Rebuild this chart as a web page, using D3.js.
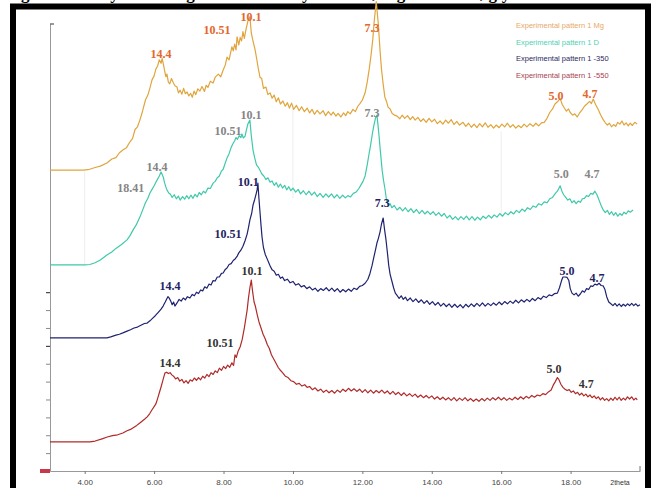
<!DOCTYPE html>
<html>
<head>
<meta charset="utf-8">
<script src="https://cdn.jsdelivr.net/npm/d3@7"></script>
<style>
  body { margin: 0; background: #fff; }
  svg { display: block; overflow: visible; }
  .peak { font-family: "Liberation Serif", serif; font-weight: bold; font-size: 12px; }
  .tick text { font-family: "Liberation Sans", sans-serif; font-size: 8px; fill: #444; }
  .legend { font-family: "Liberation Sans", sans-serif; font-size: 7.5px; }
</style>
</head>
<body>
<script>
// series names + colours (top to bottom)
const seriesNames = [
  "Experimental pattern 1 Mg",
  "Experimental pattern 1 D",
  "Experimental pattern 1 -350",
  "Experimental pattern 1 -550"
];
const lineColors = ["#e0a53c", "#3fc9aa", "#1e2270", "#b02a2a"];
const labelColors = ["#e2682c", "#858585", "#1e2463", "#333333"];
const legendColors = ["#e8a868", "#4fd0b2", "#2a2a62", "#a84050"];

// [2theta, intensity], already stacked
const mgPattern = [[3.00,67.3],[3.95,67.3],[4.1,67.4],[4.3,67.9],[4.45,68.2],[4.64,68.9],[4.78,69.8],[4.9,70.1],[5.0,71.2],[5.10,71.8],[5.2,72.3],[5.3,73.6],[5.38,74.4],[5.45,76.4],[5.52,77.0],[5.59,78.5],[5.67,80.6],[5.75,83.0],[5.82,84.1],[5.88,85.7],[5.94,87.5],[6.0,88.4],[6.05,89.9],[6.10,90.6],[6.15,92.0],[6.20,91.2],[6.23,92.3],[6.27,90.9],[6.30,89.6],[6.34,88.2],[6.37,88.8],[6.41,87.0],[6.45,86.6],[6.50,87.8],[6.55,86.9],[6.60,86.2],[6.66,85.9],[6.70,84.6],[6.75,85.2],[6.80,84.3],[6.85,85.6],[6.90,84.4],[6.95,84.8],[7.00,83.9],[7.05,84.5],[7.10,83.6],[7.15,85.0],[7.20,84.2],[7.26,85.5],[7.32,85.0],[7.38,86.0],[7.45,84.9],[7.50,86.3],[7.55,85.8],[7.62,87.2],[7.70,86.8],[7.76,88.1],[7.85,88.8],[7.92,88.2],[7.99,89.7],[8.05,90.8],[8.1,92.6],[8.16,92.0],[8.24,94.9],[8.28,94.0],[8.32,95.5],[8.36,94.2],[8.39,97.1],[8.44,95.3],[8.48,97.0],[8.52,96.2],[8.56,98.3],[8.60,96.8],[8.64,98.5],[8.70,100.6],[8.76,101.6],[8.80,98.0],[8.84,96.5],[8.91,94.2],[8.96,92.0],[9.0,90.1],[9.05,88.1],[9.10,87.8],[9.15,85.6],[9.22,85.9],[9.28,84.2],[9.34,84.6],[9.40,83.4],[9.46,84.1],[9.52,82.6],[9.58,83.5],[9.64,82.1],[9.71,82.8],[9.78,81.6],[9.84,82.4],[9.9,81.2],[9.96,82.3],[10.02,80.9],[10.1,81.8],[10.18,80.6],[10.25,81.5],[10.33,80.4],[10.41,81.2],[10.48,80.1],[10.55,80.9],[10.62,79.8],[10.70,80.7],[10.78,79.9],[10.87,80.6],[10.94,79.5],[11.02,80.4],[11.10,79.6],[11.16,80.3],[11.24,79.4],[11.30,80.0],[11.38,79.2],[11.46,80.1],[11.52,79.5],[11.58,80.4],[11.65,79.9],[11.73,80.9],[11.80,80.4],[11.87,81.6],[11.93,82.2],[12.0,83.0],[12.08,84.6],[12.14,87.0],[12.2,90.0],[12.25,93.0],[12.30,96.5],[12.34,100.5],[12.40,105.0],[12.46,100.0],[12.51,94.0],[12.55,90.0],[12.60,86.5],[12.65,83.6],[12.70,82.6],[12.74,81.4],[12.80,81.0],[12.86,80.0],[12.93,79.6],[13.0,79.4],[13.08,78.8],[13.15,79.6],[13.22,78.9],[13.30,79.5],[13.38,78.6],[13.45,79.3],[13.52,78.5],[13.60,79.1],[13.68,78.2],[13.76,78.8],[13.84,78.0],[13.92,78.9],[14.0,78.1],[14.08,78.7],[14.16,77.7],[14.24,78.3],[14.32,77.6],[14.40,78.5],[14.48,77.8],[14.56,78.6],[14.64,77.5],[14.72,78.2],[14.80,77.4],[14.90,78.0],[14.98,77.1],[15.06,77.8],[15.14,76.9],[15.22,77.6],[15.30,76.8],[15.38,77.7],[15.46,77.0],[15.54,77.9],[15.62,76.9],[15.70,77.5],[15.78,76.7],[15.86,77.4],[15.94,76.8],[16.02,77.6],[16.10,77.0],[16.18,77.8],[16.26,76.9],[16.34,77.5],[16.42,76.7],[16.50,77.3],[16.58,76.8],[16.66,77.6],[16.74,77.0],[16.83,77.7],[16.92,77.1],[17.0,77.8],[17.08,77.2],[17.16,77.9],[17.24,78.0],[17.32,78.9],[17.40,80.2],[17.48,81.0],[17.55,82.1],[17.62,82.6],[17.70,83.3],[17.76,82.0],[17.82,81.2],[17.88,80.5],[17.94,81.0],[17.99,80.2],[18.06,79.6],[18.12,79.9],[18.19,79.2],[18.26,80.1],[18.33,80.8],[18.40,81.6],[18.47,82.1],[18.55,82.7],[18.60,82.2],[18.65,83.2],[18.72,82.0],[18.80,80.8],[18.87,79.6],[18.94,78.6],[19.0,77.9],[19.06,77.4],[19.12,77.8],[19.18,77.0],[19.24,77.5],[19.30,77.1],[19.36,78.0],[19.42,77.6],[19.48,78.3],[19.54,77.4],[19.60,77.9],[19.66,77.2],[19.72,77.8],[19.78,77.3],[19.85,78.0],[19.92,77.6]];
const dPattern = [[3.0,46.1],[4.01,46.1],[4.15,46.2],[4.3,46.6],[4.45,47.2],[4.64,48.3],[4.78,49.0],[4.9,49.8],[5.05,50.6],[5.22,51.7],[5.30,52.6],[5.4,54.0],[5.48,55.0],[5.59,56.8],[5.66,58.2],[5.75,60.0],[5.82,61.0],[5.88,62.2],[5.94,63.0],[6.0,63.8],[6.05,64.6],[6.10,65.3],[6.15,66.0],[6.20,66.9],[6.23,66.4],[6.27,65.6],[6.30,64.5],[6.34,63.5],[6.37,62.9],[6.42,62.2],[6.47,61.9],[6.52,61.2],[6.58,61.8],[6.64,60.9],[6.70,61.5],[6.75,60.6],[6.82,61.4],[6.88,60.8],[6.94,61.6],[7.0,60.9],[7.06,61.7],[7.12,61.0],[7.18,61.9],[7.24,61.3],[7.30,62.3],[7.36,61.8],[7.42,62.6],[7.48,62.2],[7.55,63.3],[7.62,63.2],[7.70,64.4],[7.76,64.8],[7.82,65.6],[7.88,66.0],[7.94,67.1],[7.99,67.5],[8.05,68.9],[8.1,70.0],[8.16,71.0],[8.22,72.4],[8.27,73.2],[8.32,73.9],[8.36,74.6],[8.40,74.2],[8.45,75.0],[8.50,74.6],[8.53,75.4],[8.57,74.5],[8.62,74.9],[8.66,76.3],[8.70,77.6],[8.76,78.5],[8.80,75.0],[8.85,71.8],[8.90,70.0],[8.95,68.5],[9.0,68.0],[9.05,67.3],[9.1,66.5],[9.16,66.0],[9.22,65.2],[9.28,65.6],[9.34,64.6],[9.40,64.9],[9.46,63.9],[9.52,64.5],[9.58,63.5],[9.64,64.2],[9.70,63.3],[9.76,63.9],[9.82,62.9],[9.88,63.6],[9.94,62.7],[10.0,63.3],[10.08,62.4],[10.15,63.0],[10.22,62.0],[10.30,62.7],[10.38,61.8],[10.46,62.6],[10.54,61.7],[10.62,62.4],[10.70,61.4],[10.78,62.1],[10.87,61.2],[10.95,62.0],[11.03,61.3],[11.11,62.0],[11.19,61.1],[11.27,61.8],[11.35,61.0],[11.43,61.7],[11.51,61.1],[11.58,61.6],[11.66,61.3],[11.74,62.1],[11.82,62.4],[11.90,63.2],[11.96,64.0],[12.02,64.8],[12.08,66.0],[12.14,68.5],[12.19,70.8],[12.24,73.0],[12.30,76.0],[12.34,77.6],[12.38,79.0],[12.42,79.6],[12.45,77.5],[12.48,75.0],[12.52,71.5],[12.57,67.3],[12.61,65.0],[12.65,63.2],[12.70,60.4],[12.75,59.4],[12.80,59.8],[12.85,58.9],[12.92,59.4],[13.0,58.4],[13.08,59.0],[13.16,58.2],[13.24,58.9],[13.32,58.0],[13.40,58.7],[13.48,57.8],[13.56,58.5],[13.64,57.6],[13.72,58.3],[13.80,57.5],[13.88,58.1],[13.96,57.4],[14.04,58.0],[14.12,57.2],[14.20,57.8],[14.28,57.0],[14.36,57.6],[14.44,56.6],[14.52,57.2],[14.60,56.3],[14.68,56.9],[14.76,56.2],[14.84,56.9],[14.92,56.3],[15.0,57.0],[15.08,56.2],[15.16,56.9],[15.24,56.1],[15.32,56.8],[15.40,56.2],[15.48,57.0],[15.56,56.5],[15.64,57.2],[15.72,56.6],[15.80,57.3],[15.88,56.8],[15.96,57.6],[16.04,57.0],[16.12,57.8],[16.20,57.3],[16.28,58.0],[16.36,57.5],[16.44,58.3],[16.52,57.8],[16.60,58.6],[16.68,58.1],[16.76,58.9],[16.84,58.5],[16.92,59.3],[17.0,59.0],[17.08,59.8],[17.16,59.5],[17.24,60.2],[17.32,60.0],[17.40,60.9],[17.48,61.2],[17.55,62.0],[17.62,62.6],[17.70,63.8],[17.75,62.6],[17.80,61.8],[17.86,61.2],[17.92,60.6],[17.98,60.9],[18.04,60.0],[18.10,60.5],[18.16,59.8],[18.22,60.4],[18.28,60.1],[18.34,60.9],[18.40,61.0],[18.46,61.6],[18.52,61.4],[18.58,62.1],[18.64,61.9],[18.70,62.6],[18.76,61.8],[18.82,60.6],[18.88,59.4],[18.94,58.4],[19.0,57.8],[19.06,58.3],[19.12,57.4],[19.18,58.0],[19.24,57.2],[19.30,57.8],[19.36,57.0],[19.42,57.6],[19.48,57.2],[19.54,57.9],[19.60,57.5],[19.66,58.2],[19.72,57.9],[19.80,58.4]];
const h350Pattern = [[3.0,29.8],[4.64,29.8],[4.75,30.0],[4.9,30.4],[5.0,30.6],[5.10,30.9],[5.22,31.3],[5.32,31.6],[5.42,32.0],[5.52,32.2],[5.62,32.6],[5.72,33.0],[5.80,33.1],[5.88,33.6],[5.96,34.2],[6.04,34.8],[6.12,35.5],[6.20,36.2],[6.26,36.9],[6.32,37.8],[6.37,38.6],[6.40,39.0],[6.44,38.6],[6.48,38.0],[6.52,37.2],[6.56,37.8],[6.60,36.9],[6.66,37.6],[6.72,38.4],[6.78,38.0],[6.84,38.7],[6.90,38.3],[6.96,39.0],[7.03,38.7],[7.10,39.5],[7.16,39.2],[7.22,40.0],[7.28,39.7],[7.34,40.5],[7.40,40.3],[7.46,41.2],[7.52,40.9],[7.58,41.8],[7.64,41.6],[7.70,42.6],[7.76,42.5],[7.82,43.4],[7.88,43.4],[7.94,44.2],[7.99,44.3],[8.05,45.1],[8.10,45.4],[8.16,46.2],[8.22,46.4],[8.28,47.1],[8.34,47.5],[8.39,48.0],[8.44,48.8],[8.50,49.4],[8.56,50.3],[8.62,51.5],[8.68,53.0],[8.72,54.5],[8.76,56.2],[8.81,57.6],[8.85,59.5],[8.90,60.8],[8.94,62.0],[8.97,63.0],[8.99,64.4],[9.02,61.0],[9.05,58.0],[9.08,55.0],[9.11,52.3],[9.15,50.0],[9.20,48.5],[9.26,47.4],[9.34,45.9],[9.40,45.0],[9.46,44.7],[9.52,43.8],[9.58,44.0],[9.64,43.1],[9.70,43.4],[9.76,42.6],[9.84,42.9],[9.92,42.1],[10.0,42.4],[10.08,41.6],[10.16,41.9],[10.24,41.2],[10.32,41.5],[10.40,40.8],[10.48,41.2],[10.56,40.5],[10.64,40.9],[10.72,40.2],[10.80,40.8],[10.88,40.4],[10.96,41.0],[11.04,40.3],[11.12,40.9],[11.20,40.2],[11.28,40.8],[11.36,40.0],[11.44,40.6],[11.52,40.1],[11.60,40.7],[11.68,40.2],[11.76,40.9],[11.84,40.6],[11.92,41.3],[12.0,41.5],[12.08,42.0],[12.16,42.9],[12.22,44.2],[12.28,46.0],[12.33,47.8],[12.38,49.5],[12.42,51.0],[12.46,52.0],[12.51,53.5],[12.55,55.2],[12.60,56.6],[12.64,54.0],[12.68,51.8],[12.72,49.0],[12.76,46.0],[12.80,44.0],[12.85,42.5],[12.90,41.0],[12.95,39.8],[13.0,39.3],[13.06,38.6],[13.12,39.2],[13.18,38.4],[13.24,38.9],[13.30,38.1],[13.38,38.7],[13.46,37.9],[13.54,38.5],[13.62,37.7],[13.70,38.3],[13.78,37.5],[13.86,38.1],[13.94,37.3],[14.02,37.9],[14.10,37.1],[14.18,37.7],[14.26,36.9],[14.34,37.5],[14.42,36.8],[14.50,37.4],[14.58,36.6],[14.66,37.3],[14.74,36.6],[14.82,37.2],[14.90,36.5],[14.98,37.3],[15.06,36.7],[15.14,37.4],[15.22,36.8],[15.30,37.5],[15.38,36.9],[15.46,37.6],[15.54,36.9],[15.62,37.5],[15.70,37.0],[15.78,37.6],[15.86,37.1],[15.94,37.8],[16.02,37.2],[16.10,37.9],[16.18,37.4],[16.26,38.0],[16.34,37.5],[16.42,38.2],[16.50,37.6],[16.58,38.3],[16.66,37.8],[16.74,38.4],[16.82,37.9],[16.90,38.6],[16.98,38.1],[17.06,38.8],[17.14,38.4],[17.22,39.1],[17.30,38.8],[17.38,39.4],[17.46,39.2],[17.54,39.7],[17.62,39.8],[17.68,41.0],[17.74,42.6],[17.78,43.4],[17.84,43.4],[17.90,43.3],[17.95,42.6],[17.99,40.8],[18.04,39.8],[18.10,39.4],[18.16,39.8],[18.22,39.1],[18.28,39.6],[18.34,40.3],[18.40,40.0],[18.46,40.8],[18.52,40.6],[18.58,41.4],[18.64,41.3],[18.70,41.8],[18.76,41.6],[18.82,42.0],[18.88,41.5],[18.94,41.4],[18.99,40.6],[19.04,39.0],[19.10,37.8],[19.16,37.4],[19.22,37.0],[19.28,37.5],[19.34,36.9],[19.40,37.4],[19.46,36.8],[19.52,37.3],[19.58,36.9],[19.64,37.4],[19.70,37.0],[19.76,37.5],[19.82,37.0],[19.88,37.4],[19.94,36.9],[20.0,37.2]];
const h550Pattern = [[3.0,6.5],[4.15,6.5],[4.3,6.7],[4.5,7.2],[4.65,7.6],[4.8,7.9],[4.95,8.1],[5.10,8.5],[5.22,9.0],[5.32,9.3],[5.42,9.8],[5.5,10.2],[5.58,10.7],[5.66,11.2],[5.74,11.7],[5.80,12.1],[5.87,12.8],[5.94,13.7],[6.0,14.4],[6.05,15.0],[6.10,16.2],[6.15,17.5],[6.20,18.8],[6.25,20.2],[6.31,21.9],[6.36,22.1],[6.41,21.8],[6.46,22.0],[6.51,21.5],[6.56,21.2],[6.62,20.6],[6.68,20.9],[6.74,20.1],[6.80,20.5],[6.86,19.7],[6.92,20.2],[6.98,19.6],[7.04,20.4],[7.10,20.1],[7.16,20.8],[7.22,20.3],[7.28,20.9],[7.34,20.4],[7.40,21.2],[7.46,20.8],[7.52,21.6],[7.58,21.1],[7.64,22.0],[7.70,21.6],[7.76,22.4],[7.82,22.0],[7.88,23.0],[7.94,22.5],[8.0,23.4],[8.06,22.9],[8.12,23.7],[8.18,23.2],[8.24,24.2],[8.29,23.6],[8.33,26.0],[8.37,25.4],[8.42,26.8],[8.48,27.8],[8.54,29.5],[8.60,32.0],[8.64,34.0],[8.68,36.0],[8.72,38.8],[8.76,41.0],[8.80,42.7],[8.84,40.0],[8.88,37.8],[8.92,36.8],[8.97,35.0],[9.02,33.4],[9.08,32.0],[9.14,30.6],[9.20,29.6],[9.26,28.3],[9.32,27.4],[9.38,26.0],[9.45,25.0],[9.52,24.0],[9.58,23.1],[9.63,22.6],[9.70,22.0],[9.78,21.2],[9.86,20.9],[9.94,20.2],[10.02,20.0],[10.10,19.4],[10.18,19.6],[10.26,19.0],[10.34,19.3],[10.41,18.7],[10.48,18.9],[10.56,18.2],[10.64,18.6],[10.72,17.9],[10.80,18.3],[10.88,17.6],[10.96,18.1],[11.04,17.5],[11.12,18.0],[11.20,17.4],[11.28,18.1],[11.36,17.6],[11.44,18.3],[11.52,17.8],[11.60,18.5],[11.68,17.9],[11.76,18.4],[11.84,17.8],[11.92,18.3],[12.0,17.6],[12.08,18.2],[12.16,17.5],[12.24,18.1],[12.32,17.4],[12.40,18.0],[12.48,17.5],[12.56,18.1],[12.64,17.4],[12.72,17.9],[12.80,17.2],[12.88,17.8],[12.96,17.1],[13.04,17.6],[13.12,16.9],[13.20,17.5],[13.28,16.8],[13.36,17.3],[13.44,16.7],[13.52,17.2],[13.60,16.5],[13.68,17.0],[13.76,16.4],[13.84,16.9],[13.92,16.3],[14.0,16.8],[14.08,16.1],[14.16,16.6],[14.24,16.0],[14.32,16.5],[14.40,15.9],[14.48,16.4],[14.56,15.8],[14.64,16.4],[14.72,15.7],[14.80,16.3],[14.88,15.8],[14.96,16.4],[15.04,15.7],[15.12,16.2],[15.20,15.6],[15.28,16.1],[15.36,15.6],[15.44,16.2],[15.52,15.7],[15.60,16.3],[15.68,15.8],[15.76,16.4],[15.84,15.9],[15.92,16.5],[16.0,15.9],[16.08,16.4],[16.16,15.8],[16.24,16.3],[16.32,15.9],[16.40,16.5],[16.48,16.0],[16.56,16.6],[16.64,16.1],[16.72,16.7],[16.80,16.3],[16.88,16.9],[16.96,16.5],[17.04,17.0],[17.12,16.8],[17.20,17.3],[17.28,17.1],[17.36,17.7],[17.44,18.1],[17.50,19.2],[17.56,20.0],[17.62,20.9],[17.66,20.5],[17.72,19.4],[17.78,18.7],[17.84,18.3],[17.90,18.0],[17.96,18.2],[18.02,17.6],[18.08,17.9],[18.14,17.3],[18.20,17.6],[18.26,17.0],[18.32,17.4],[18.38,16.8],[18.44,17.2],[18.50,16.6],[18.56,17.0],[18.62,16.4],[18.68,16.8],[18.74,16.2],[18.80,16.6],[18.86,15.9],[18.92,16.4],[18.98,15.8],[19.04,16.2],[19.10,15.7],[19.16,16.3],[19.22,15.8],[19.28,16.5],[19.34,15.9],[19.40,16.5],[19.46,15.8],[19.52,16.3],[19.58,15.9],[19.64,16.6],[19.70,16.1],[19.76,16.6],[19.82,15.9],[19.88,16.3],[19.92,15.9]];
const patterns = [mgPattern, dPattern, h350Pattern, h550Pattern];

// d-spacing annotations: [2theta, intensity, text]
const mgLabels = [[6.20,92.4,"14.4"],[7.81,97.8,"10.51"],[8.79,100.7,"10.1"],[12.28,98.2,"7.3"],[17.58,83.0,"5.0"],[18.56,83.4,"4.7"]];
const dLabels = [[6.08,67.1,"14.4"],[5.33,62.4,"18.41"],[8.13,75.2,"10.51"],[8.79,78.7,"10.1"],[12.28,79.2,"7.3"],[17.73,65.5,"5.0"],[18.62,65.5,"4.7"]];
const h350Labels = [[6.46,40.5,"14.4"],[8.13,52.1,"10.51"],[8.71,63.8,"10.1"],[12.57,59.1,"7.3"],[17.90,43.8,"5.0"],[18.76,42.3,"4.7"]];
const h550Labels = [[6.46,23.3,"14.4"],[7.90,27.7,"10.51"],[8.82,43.8,"10.1"],[17.52,21.9,"5.0"],[18.45,18.6,"4.7"]];
const peakLabels = [mgLabels, dLabels, h350Labels, h550Labels];

const xTicks = [4, 6, 8, 10, 12, 14, 16, 18];
const yTicks = [4, 8, 12, 16, 20, 24, 28, 32, 36, 40];

const width = 652, height = 488;
const margin = { top: 24, right: 12, bottom: 17, left: 50 };

const svg = d3.select("body").append("svg")
  .attr("width", width)
  .attr("height", height);

const x = d3.scaleLinear().domain([3, 20]).range([margin.left, width - margin.right]);
const y = d3.scaleLinear().domain([0, 100]).range([height - margin.bottom, margin.top]);

//cut-off caption above the frame (only its descenders show)
svg.append("text")
  .attr("x", 326)
  .attr("y", -1)
  .attr("text-anchor", "middle")
  .style("font-family", "Liberation Serif, serif")
  .style("font-weight", "bold")
  .style("font-size", "17px")
  .text("Figure 3: X-ray diffractograms of the clay fraction, Mg-saturated, glycolated and heated");

//black frame
svg.append("rect")
  .attr("x", 13).attr("y", 6.5)
  .attr("width", 635).attr("height", 500)
  .attr("fill", "none")
  .attr("stroke", "#000")
  .attr("stroke-width", 6);

//faint grid remnants
[[4, 67, 46], [10, 82, 61], [16, 76, 57]].forEach(g => {
  svg.append("line")
    .attr("x1", x(g[0])).attr("x2", x(g[0]))
    .attr("y1", y(g[1])).attr("y2", y(g[2]))
    .attr("stroke", "#eeeeee");
});

//axes
const xAxis = d3.axisBottom(x).tickValues(xTicks).tickFormat(d3.format(".2f")).tickSize(3).tickSizeOuter(0);
const xAxisGroup = svg.append("g")
  .attr("transform", `translate(0, ${y(0)})`)
  .call(xAxis);
xAxisGroup.select(".domain").attr("stroke", "#999");
xAxisGroup.selectAll(".tick line").attr("stroke", "#777");
xAxisGroup.selectAll(".tick text").attr("y", 8);

xAxisGroup.append("line")
  .attr("x1", x(20)).attr("x2", x(20))
  .attr("y1", 0).attr("y2", -5)
  .attr("stroke", "#777");

svg.append("text")
  .attr("x", 620).attr("y", 485)
  .attr("text-anchor", "middle")
  .style("font-family", "Liberation Sans, sans-serif")
  .style("font-size", "7px")
  .attr("fill", "#333")
  .text("2theta");

const yAxis = d3.axisLeft(y).tickValues(yTicks).tickFormat("").tickSize(4).tickSizeOuter(0);
const yAxisGroup = svg.append("g")
  .attr("transform", `translate(${margin.left}, 0)`)
  .call(yAxis);
yAxisGroup.select(".domain").attr("stroke", "#999");
yAxisGroup.selectAll(".tick line").attr("stroke", d => (d === 28 || d === 40) ? "#222" : "#888");

yAxisGroup.append("line")
  .attr("x1", 0).attr("x2", 4)
  .attr("y1", y(100)).attr("y2", y(100))
  .attr("stroke", "#333");

svg.append("rect")
  .attr("x", 40).attr("y", y(0) - 2)
  .attr("width", 10).attr("height", 4)
  .attr("fill", "#c83848");

//traces
const line = d3.line().x(d => x(d[0])).y(d => y(d[1]));
svg.selectAll(".trace")
  .data(patterns)
  .join("path")
  .attr("class", "trace")
  .attr("d", line)
  .attr("fill", "none")
  .attr("stroke", (d, i) => lineColors[i])
  .attr("stroke-width", 1.2)
  .attr("stroke-linejoin", "round");

//peak labels
peakLabels.forEach((labels, i) => {
  svg.selectAll(`.peak-${i}`)
    .data(labels)
    .join("text")
    .attr("class", `peak peak-${i}`)
    .attr("x", d => x(d[0]))
    .attr("y", d => y(d[1]))
    .attr("text-anchor", "middle")
    .attr("fill", labelColors[i])
    .text(d => d[2]);
});

//legend
svg.selectAll(".legend")
  .data(seriesNames)
  .join("text")
  .attr("class", "legend")
  .attr("x", 516)
  .attr("y", (d, i) => 28 + i * 16.5)
  .attr("fill", (d, i) => legendColors[i])
  .text(d => d);
</script>
</body>
</html>
